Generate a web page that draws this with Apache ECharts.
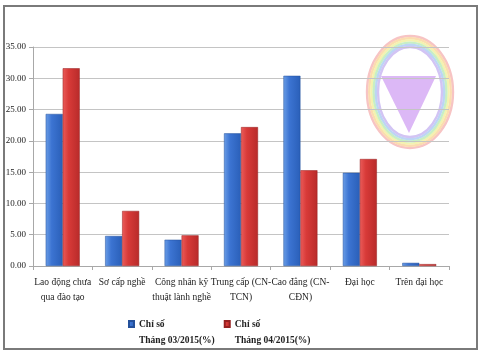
<!DOCTYPE html>
<html><head><meta charset="utf-8">
<script src="https://cdn.jsdelivr.net/npm/echarts@6/dist/echarts.min.js"></script>
<style>html,body{margin:0;padding:0;background:#fff}#c{width:480px;height:360px}</style>
</head><body><div id="c"></div>
<script>
const categories = ["Lao động chưa\nqua đào tạo", "Sơ cấp nghề", "Công nhân kỹ\nthuật lành nghề", "Trung cấp (CN-\nTCN)", "Cao đẳng (CN-\nCĐN)", "Đại học", "Trên đại học"];
const seriesNames = ["Chỉ số\nTháng 03/2015(%)", "Chỉ số\nTháng 04/2015(%)"];
const march = [24.3, 4.8, 4.2, 21.2, 30.4, 14.9, 0.5];
const april = [31.6, 8.8, 4.9, 22.2, 15.3, 17.1, 0.3];

const serif = '"Liberation Serif","DejaVu Serif",serif';
const chart = echarts.init(document.getElementById('c'), null, {renderer: 'canvas'});
const blueGrad = new echarts.graphic.LinearGradient(0, 0, 1, 0, [
  {offset: 0, color: '#6a9de6'}, {offset: 0.35, color: '#3c74d2'}, {offset: 1, color: '#2a5fb8'}]);
const redGrad = new echarts.graphic.LinearGradient(0, 0, 1, 0, [
  {offset: 0, color: '#ea5c5a'}, {offset: 0.35, color: '#d83a38'}, {offset: 1, color: '#b82b2a'}]);

const rings = ['#f7c4c4', '#fbdcb0', '#f4f2b0', '#c8efc4', '#bcd6f4', '#d2c4f4'];
const ringEls = rings.map((c, i) => ({
  type: 'ellipse', shape: {cx: 410, cy: 92, rx: 43 - i * 2.2, ry: 56 - i * 2.2},
  style: {fill: null, stroke: c, lineWidth: 2.4}, silent: true, z: -1
}));

chart.setOption({
  animation: false,
  grid: {left: 33, right: 31, top: 47, bottom: 94},
  graphic: [
    {type: 'rect', shape: {x: 4, y: 6, width: 473, height: 343}, style: {fill: null, stroke: '#7a7a7a', lineWidth: 2}, silent: true, z: -2},
    ...ringEls,
    {type: 'polygon', shape: {points: [[381, 76], [436, 76], [409, 133]]}, style: {fill: '#dcb8f6'}, silent: true, z: -1}
  ],
  legend: {
    data: seriesNames, left: 123, top: 312, itemWidth: 5, itemHeight: 24, itemGap: 9,
    icon: 'path://M0,24 M0,0h5v6h-5z',
    textStyle: {fontFamily: serif, fontSize: 9.5, fontWeight: 'bold', color: '#222', lineHeight: 16}
  },
  xAxis: {
    type: 'category', data: categories,
    axisLine: {lineStyle: {color: '#a8a8a8'}},
    axisTick: {show: true, length: 4, lineStyle: {color: '#a8a8a8'}},
    axisLabel: {fontFamily: serif, fontSize: 9.5, color: '#222', lineHeight: 15, margin: 9, interval: 0}
  },
  yAxis: {
    type: 'value', min: 0, max: 35, interval: 5,
    axisLine: {show: true, lineStyle: {color: '#a8a8a8'}},
    axisTick: {show: true, inside: false, length: 4, lineStyle: {color: '#a8a8a8'}},
    splitLine: {lineStyle: {color: '#c4c4c4'}},
    axisLabel: {fontFamily: serif, fontSize: 9, color: '#222', margin: 7, formatter: v => v.toFixed(2)}
  },
  series: [
    {name: seriesNames[0], type: 'bar', data: march, barWidth: 17, barGap: '0%',
     itemStyle: {color: blueGrad, borderColor: '#24509a', borderWidth: 0.5}},
    {name: seriesNames[1], type: 'bar', data: april, barWidth: 17,
     itemStyle: {color: redGrad, borderColor: '#962020', borderWidth: 0.5}}
  ]
});
</script></body></html>
